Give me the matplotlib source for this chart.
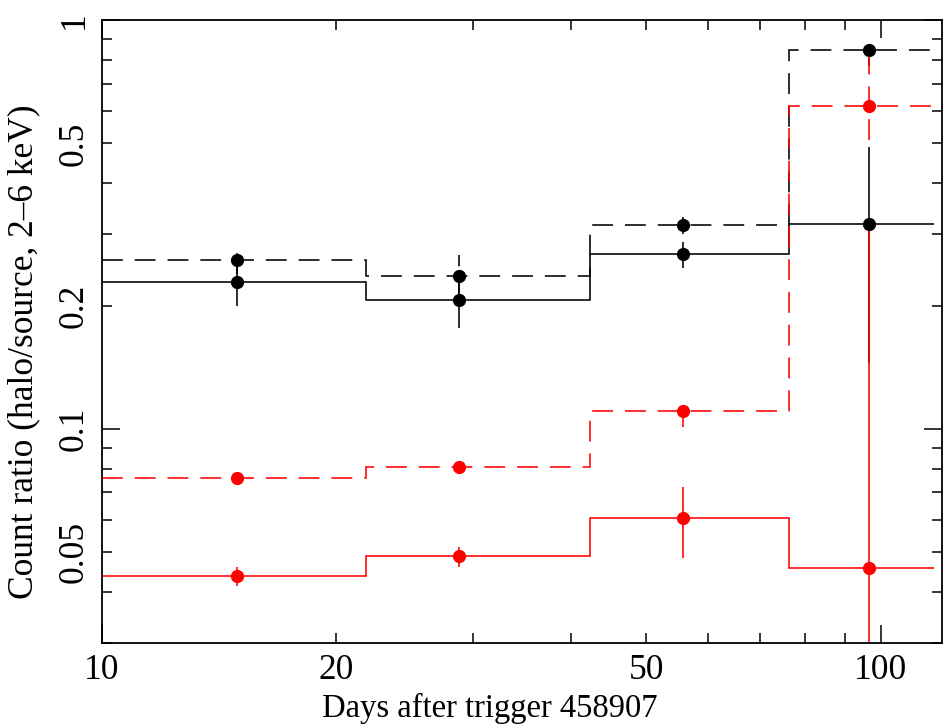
import matplotlib
matplotlib.use("Agg")
import matplotlib.pyplot as plt
import numpy as np

plt.rcParams['font.family'] = ['Liberation Serif', 'DejaVu Serif']
plt.rcParams['lines.scale_dashes'] = False

# Data
edges = [10, 21.8, 42.3, 76.3, 117]
x_pts = [14.9, 28.7, 55.7, 96.6]

black_dashed = [0.259, 0.237, 0.315, 0.845]
black_dashed_lo = [0.239, 0.208, 0.300, 0.771]
black_dashed_hi = [0.279, 0.266, 0.330, 0.919]

black_solid = [0.229, 0.207, 0.268, 0.317]
black_solid_lo = [0.200, 0.177, 0.248, 0.145]
black_solid_hi = [0.258, 0.237, 0.287, 0.489]

red_dashed = [0.0759, 0.0807, 0.111, 0.616]
red_dashed_lo = [0.0745, 0.0792, 0.1013, 0.51]
red_dashed_hi = [0.0773, 0.0822, 0.121, 0.83]

red_solid = [0.0437, 0.0489, 0.0606, 0.0457]
red_solid_lo = [0.0413, 0.0460, 0.0485, 0.001]
red_solid_hi = [0.0460, 0.0516, 0.0720, 0.307]

xlabel = "Days after trigger 458907"
ylabel = "Count ratio (halo/source, 2\u20136 keV)"
xticks_major = [10, 100]
xtick_labels_minor = {20: "20", 50: "50"}
yticks_major = [0.1, 1]
ytick_labels = {0.05: "0.05", 0.1: "0.1", 0.2: "0.2", 0.5: "0.5", 1: "1"}

FS = 23.5
TFS = 25.5

fig = plt.figure(figsize=(9.45, 7.24), dpi=100)
ax = fig.add_axes([0.108, 0.112, 0.889, 0.860])
ax.set_xscale('log')
ax.set_yscale('log')

DASH = (0, (15, 8.6))
LW = 1.15

series = [
    (black_dashed, black_dashed_lo, black_dashed_hi, 'black', DASH),
    (black_solid, black_solid_lo, black_solid_hi, 'black', '-'),
    (red_dashed, red_dashed_lo, red_dashed_hi, 'red', DASH),
    (red_solid, red_solid_lo, red_solid_hi, 'red', '-'),
]
for vals, lo, hi, col, ls in series:
    ax.stairs(vals, edges, baseline=None, color=col, linestyle=ls, linewidth=LW)
    v = np.array(vals)
    yerr = [v - np.array(lo), np.array(hi) - v]
    eb = ax.errorbar(x_pts, vals, yerr=yerr, fmt='o', color=col, ms=8.5,
                     elinewidth=LW, capsize=0)
    eb[2][0].set_linestyle(ls)

ax.set_xlim(10, 120)
ax.set_ylim(0.03, 1)

# x ticks
ax.set_xticks(xticks_major, labels=[str(t) for t in xticks_major])
xminor = [m * d for d in (10, 100) for m in range(2, 10) if 10 < m * d < 120]
ax.set_xticks(xminor, labels=[xtick_labels_minor.get(t, "") for t in xminor], minor=True)

# y ticks
ax.set_yticks(yticks_major, labels=[ytick_labels[t] for t in yticks_major])
yminor = [m * d for d in (0.01, 0.1) for m in range(2, 10) if 0.03 <= m * d < 1]
yminor = [round(t, 3) for t in yminor]
ax.set_yticks(yminor, labels=[ytick_labels.get(t, "") for t in yminor], minor=True)

for which, length in (('major', 13), ('minor', 7)):
    ax.tick_params(axis='both', which=which, direction='in', length=length, width=1.1,
                   top=True, right=True, labelsize=TFS, pad=8)
for lab in ax.get_yticklabels(which='both'):
    lab.set_rotation(90)
    lab.set_va('center')

for s in ax.spines.values():
    s.set_linewidth(1.3)

ax.set_xlabel(xlabel, fontsize=FS, labelpad=2)
ax.xaxis.set_label_coords(0.461, -0.08)
ax.set_ylabel(ylabel, fontsize=25.5, labelpad=6)
ax.yaxis.set_label_coords(-0.074, 0.467)

fig.savefig("out.png", dpi=100)
